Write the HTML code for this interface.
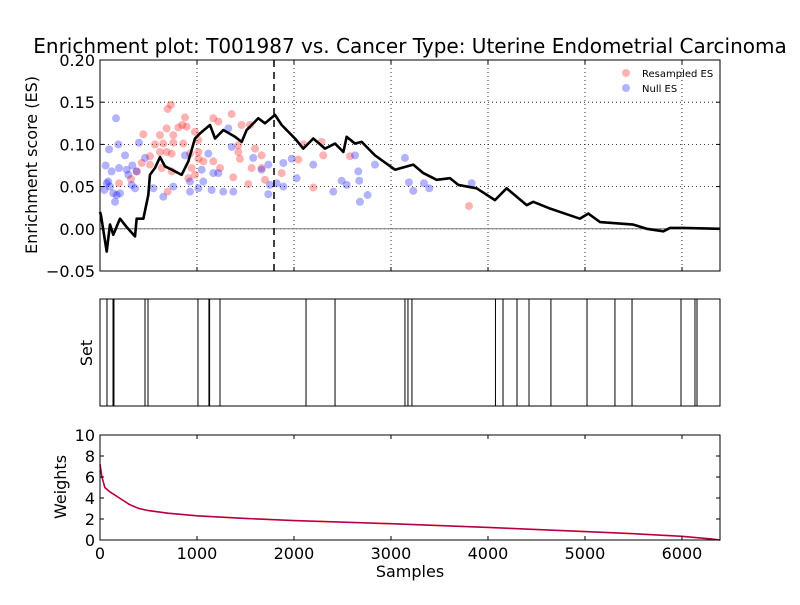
<!DOCTYPE html>
<html><head><meta charset="utf-8"><style>
body{margin:0;background:#fff}
svg text{font-family:"DejaVu Sans","Liberation Sans",sans-serif}
</style></head><body>
<svg id="fig" width="800" height="600" xmlns="http://www.w3.org/2000/svg">
<rect width="800" height="600" fill="#fff"/>
<text x="410" y="53" font-size="20" text-anchor="middle">Enrichment plot: T001987 vs. Cancer Type: Uterine Endometrial Carcinoma</text>
<g id="topPanel"></g>
<g id="midPanel"></g>
<g id="botPanel"></g>
</svg>
<script>
const xTicks=[0,1000,2000,3000,4000,5000,6000];
const esTicks=[-0.05,0,0.05,0.10,0.15,0.20];
const esTickLabels=["\u22120.05","0.00","0.05","0.10","0.15","0.20"];
const wTicks=[0,2,4,6,8,10];
const esSamples=[0,10,69,103,137,206,275,361,378,447,498,515,567,619,670,739,842,911,979,1031,1134,1186,1271,1392,1461,1512,1632,1701,1804,1873,2010,2096,2199,2320,2423,2509,2543,2629,2698,2835,3041,3230,3333,3471,3608,3694,3883,4072,4192,4399,4467,4639,4742,4948,5034,5155,5498,5636,5808,5876,6013,6392];
const esValues=[0.02,0.016,-0.027,0.005,-0.007,0.012,0.002,-0.009,0.012,0.012,0.040,0.064,0.072,0.085,0.074,0.070,0.064,0.080,0.107,0.113,0.123,0.107,0.117,0.109,0.103,0.117,0.131,0.125,0.135,0.123,0.107,0.095,0.107,0.095,0.101,0.091,0.109,0.101,0.103,0.087,0.070,0.076,0.066,0.058,0.060,0.052,0.048,0.034,0.048,0.028,0.032,0.024,0.020,0.012,0.018,0.008,0.005,0.000,-0.003,0.001,0.001,0.000];
const resampledX=[732,698,876,1168,1357,1220,849,687,808,618,756,893,1546,1460,567,653,756,859,979,1014,618,687,739,928,1014,1065,1168,1237,515,430,515,636,739,945,1014,1426,1443,1598,1666,1563,1666,1374,1529,1701,1873,2044,2285,2302,2199,2577,447,196,320,378,698,911,979,1426,2096,3804];
const resampledY=[0.147,0.142,0.132,0.131,0.136,0.127,0.123,0.119,0.120,0.111,0.111,0.121,0.123,0.123,0.100,0.101,0.102,0.101,0.115,0.105,0.091,0.091,0.089,0.089,0.083,0.080,0.080,0.072,0.086,0.078,0.076,0.072,0.068,0.072,0.091,0.091,0.083,0.095,0.087,0.072,0.072,0.061,0.053,0.058,0.066,0.082,0.103,0.087,0.049,0.086,0.112,0.054,0.059,0.068,0.044,0.060,0.064,0.099,0.100,0.027];
const nullX=[165,189,93,402,258,333,464,58,120,196,275,292,378,69,86,103,137,155,172,206,45,326,361,550,653,756,876,928,928,1014,1048,1117,1065,1151,1168,1220,1271,1374,1323,1357,1580,1666,1735,1752,1735,1821,1890,1890,1976,2027,2199,2405,2491,2543,2663,2673,2680,2759,2629,2835,3144,3185,3230,3340,3395,3832];
const nullY=[0.131,0.100,0.094,0.102,0.087,0.075,0.084,0.075,0.068,0.072,0.070,0.064,0.068,0.054,0.056,0.050,0.042,0.032,0.040,0.042,0.046,0.052,0.048,0.048,0.038,0.050,0.087,0.056,0.044,0.048,0.070,0.089,0.056,0.046,0.066,0.066,0.044,0.044,0.119,0.097,0.084,0.070,0.076,0.052,0.041,0.054,0.050,0.078,0.083,0.060,0.076,0.044,0.057,0.052,0.068,0.057,0.032,0.040,0.087,0.076,0.084,0.055,0.045,0.054,0.048,0.054];
const setHits=[72,134,144,464,495,1010,1123,1130,1237,2124,2423,3144,3175,3216,4077,4155,4299,4423,4649,5021,5309,5485,5990,6134,6155];
const weightSamples=[0,20,50,100,200,300,400,500,700,1000,1500,2000,3000,4000,5000,5500,6000,6300,6392];
const weightValues=[7.2,6.0,5.0,4.6,4.0,3.4,3.0,2.8,2.55,2.3,2.05,1.85,1.55,1.2,0.8,0.6,0.35,0.1,0];
const maxESSample=1794;

const NS="http://www.w3.org/2000/svg";
const XMAX=6392, L=100, R=720;
const sx=v=>L+(R-L)*v/XMAX;
const syTop=v=>271-(v+0.05)/0.25*211;
const syBot=v=>540-v*10.5;
function mk(parent,tag,attrs,name){const e=document.createElementNS(NS,tag);for(const k in attrs)e.setAttribute(k,attrs[k]);


parent.appendChild(e);return e;}
const topG=document.getElementById('topPanel'),midG=document.getElementById('midPanel'),botG=document.getElementById('botPanel');

xTicks.slice(1).forEach(t=>mk(topG,'line',{x1:sx(t),x2:sx(t),y1:60,y2:271,stroke:'#000','stroke-width':0.8,'stroke-dasharray':'1,3'},'x-grid-line'));
esTicks.slice(1,-1).forEach(t=>mk(topG,'line',{x1:L,x2:R,y1:syTop(t),y2:syTop(t),stroke:'#000','stroke-width':0.8,'stroke-dasharray':'1,3'},'y-grid-line'));
mk(topG,'line',{x1:L,x2:R,y1:syTop(0),y2:syTop(0),stroke:'#777','stroke-width':1},'zero-line');
resampledX.forEach((x,i)=>mk(topG,'circle',{cx:sx(x),cy:syTop(resampledY[i]),r:4,fill:'#ff0000','fill-opacity':0.3},'resampled-es-point'));
nullX.forEach((x,i)=>mk(topG,'circle',{cx:sx(x),cy:syTop(nullY[i]),r:4,fill:'#0000ff','fill-opacity':0.3},'null-es-point'));
mk(topG,'polyline',{points:esSamples.map((s,i)=>sx(s)+','+syTop(esValues[i])).join(' '),fill:'none',stroke:'#000','stroke-width':2.6,'stroke-linejoin':'round'},'es-curve');
mk(topG,'line',{x1:sx(maxESSample),x2:sx(maxESSample),y1:60,y2:271,stroke:'#000','stroke-width':1.5,'stroke-dasharray':'7,5'},'max-es-marker');
mk(topG,'rect',{x:L,y:60,width:R-L,height:211,fill:'none',stroke:'#000','stroke-width':1},'es-axes-frame');
xTicks.forEach(t=>{mk(topG,'line',{x1:sx(t),x2:sx(t),y1:271,y2:267,stroke:'#000'},'x-tick');mk(topG,'line',{x1:sx(t),x2:sx(t),y1:60,y2:64,stroke:'#000'},'x-tick');});
esTicks.forEach((t,i)=>{const y=syTop(t);mk(topG,'line',{x1:L,x2:L+4,y1:y,y2:y,stroke:'#000'},'y-tick');mk(topG,'line',{x1:R-4,x2:R,y1:y,y2:y,stroke:'#000'},'y-tick');
const tx=mk(topG,'text',{x:95,y:y+6,'font-size':16,'text-anchor':'end'},'y-tick-label');tx.textContent=esTickLabels[i];});
const yl=mk(topG,'text',{x:37,y:165,'font-size':16,'text-anchor':'middle',transform:'rotate(-90 37 165)'},'y-axis-title');yl.textContent='Enrichment score (ES)';
mk(topG,'circle',{cx:626,cy:73,r:4,fill:'#ff0000','fill-opacity':0.3},'legend-marker-resampled');
let lt=mk(topG,'text',{x:642,y:77,'font-size':10},'legend-label-resampled');lt.textContent='Resampled ES';
mk(topG,'circle',{cx:626,cy:88,r:4,fill:'#0000ff','fill-opacity':0.3},'legend-marker-null');
lt=mk(topG,'text',{x:642,y:92,'font-size':10},'legend-label-null');lt.textContent='Null ES';

setHits.forEach(s=>mk(midG,'line',{x1:sx(s),x2:sx(s),y1:299,y2:406,stroke:'#000','stroke-width':1},'set-hit-line'));
mk(midG,'rect',{x:L,y:299,width:R-L,height:107,fill:'none',stroke:'#000','stroke-width':1},'set-axes-frame');
const sl=mk(midG,'text',{x:92,y:353,'font-size':16,'text-anchor':'middle',transform:'rotate(-90 92 353)'},'set-axis-title');sl.textContent='Set';

const wp=weightSamples.map((s,i)=>sx(s)+','+syBot(weightValues[i])).join(' ');
mk(botG,'polyline',{points:wp,fill:'none',stroke:'#ff0000','stroke-width':1.6},'weights-line-red');
mk(botG,'polyline',{points:wp,fill:'none',stroke:'#0000ff','stroke-width':1.2,'stroke-opacity':0.35},'weights-line-blue');
mk(botG,'rect',{x:L,y:435,width:R-L,height:105,fill:'none',stroke:'#000','stroke-width':1},'weights-axes-frame');
xTicks.forEach(t=>{mk(botG,'line',{x1:sx(t),x2:sx(t),y1:540,y2:536,stroke:'#000'},'x-tick');mk(botG,'line',{x1:sx(t),x2:sx(t),y1:435,y2:439,stroke:'#000'},'x-tick');
const tx=mk(botG,'text',{x:sx(t),y:559,'font-size':16,'text-anchor':'middle'},'x-tick-label');tx.textContent=t;});
wTicks.forEach(t=>{const y=syBot(t);mk(botG,'line',{x1:L,x2:L+4,y1:y,y2:y,stroke:'#000'},'y-tick');mk(botG,'line',{x1:R-4,x2:R,y1:y,y2:y,stroke:'#000'},'y-tick');
const tx=mk(botG,'text',{x:95,y:y+6,'font-size':16,'text-anchor':'end'},'y-tick-label');tx.textContent=t;});
const wl=mk(botG,'text',{x:66,y:487,'font-size':16,'text-anchor':'middle',transform:'rotate(-90 66 487)'},'weights-axis-title');wl.textContent='Weights';
const xl=mk(botG,'text',{x:410,y:577,'font-size':16,'text-anchor':'middle'},'x-axis-title');xl.textContent='Samples';
</script>
</body></html>
